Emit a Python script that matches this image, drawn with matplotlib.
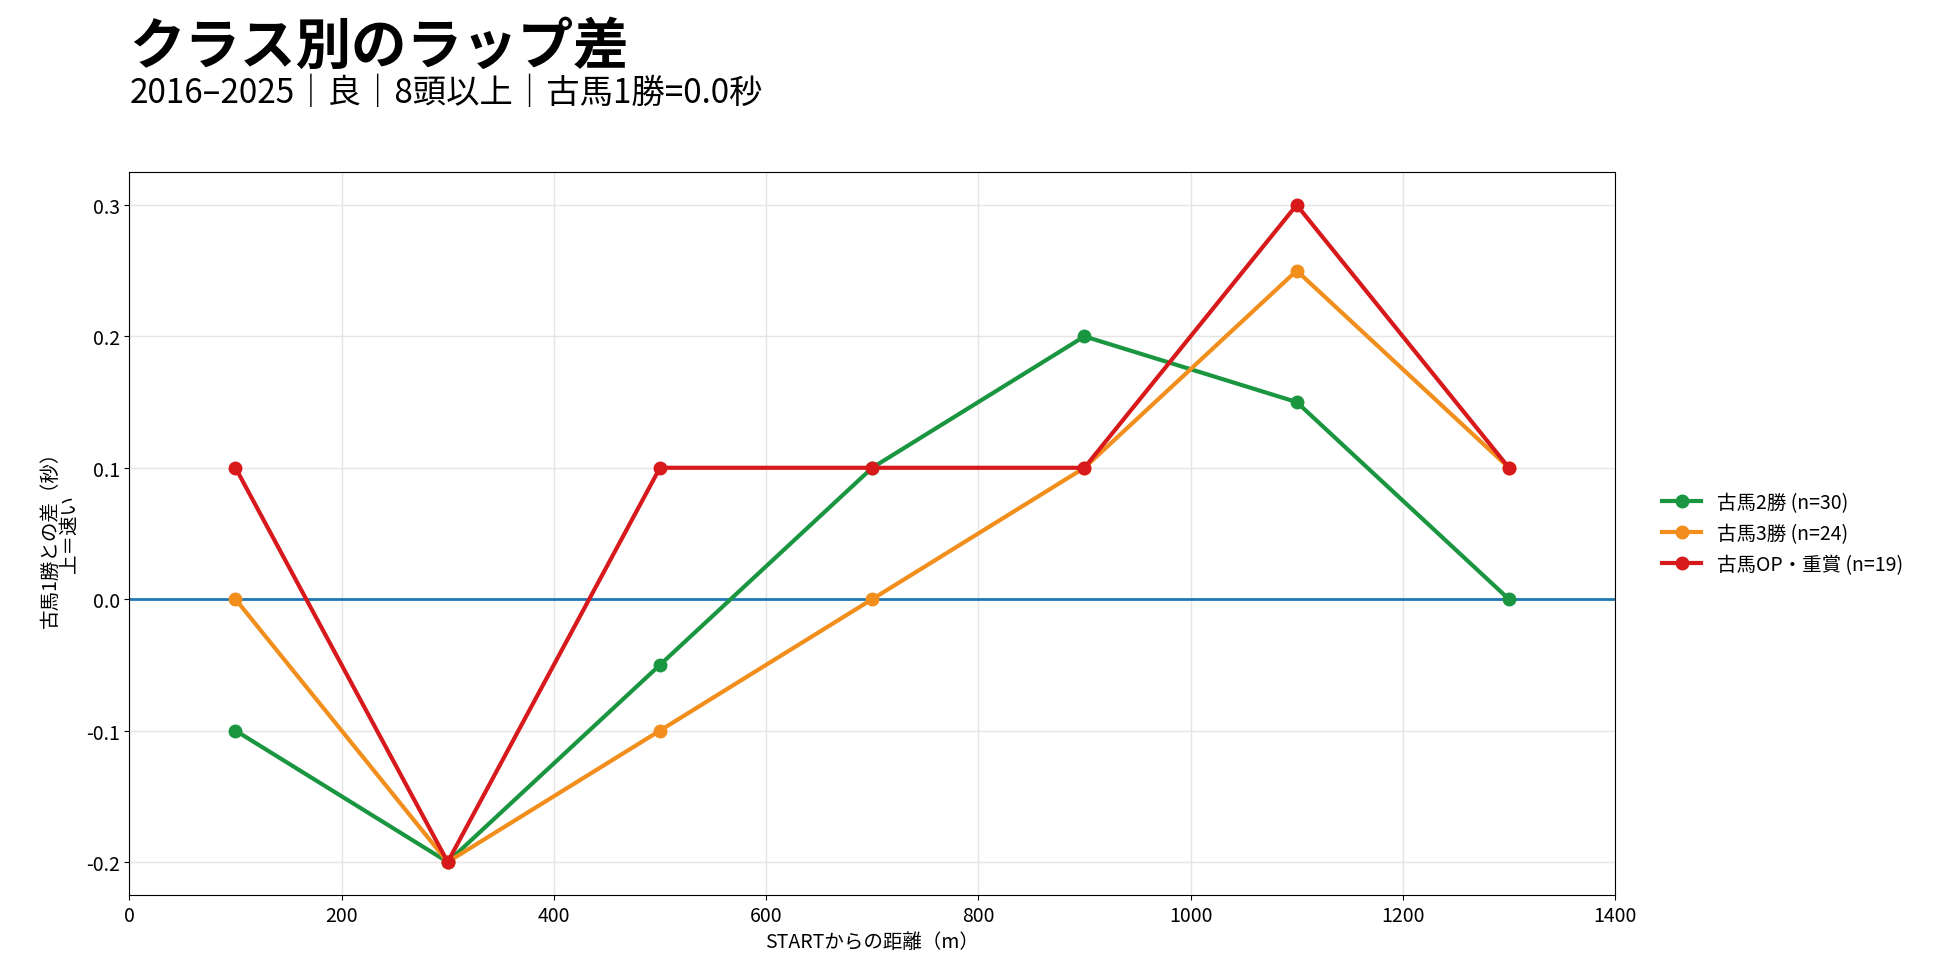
import matplotlib.pyplot as plt
from matplotlib.ticker import FuncFormatter

plt.rcParams['font.family'] = ['Noto Sans CJK JP', 'DejaVu Sans']

distance = [100, 300, 500, 700, 900, 1100, 1300]
win2 = [-0.1, -0.2, -0.05, 0.1, 0.2, 0.15, 0.0]
win3 = [0.0, -0.2, -0.1, 0.0, 0.1, 0.25, 0.1]
open_g = [0.1, -0.2, 0.1, 0.1, 0.1, 0.3, 0.1]
labels = ["古馬2勝 (n=30)", "古馬3勝 (n=24)", "古馬OP・重賞 (n=19)"]
colors = ["#1a9641", "#f28e1c", "#d7191c"]

fig = plt.figure(figsize=(19.6, 9.78), dpi=100)
ax = fig.add_axes([0.066, 0.084, 0.758, 0.739])

ax.axhline(0, color="#1f77b4", lw=2, zorder=1)
for ys, lab, c in zip([win2, win3, open_g], labels, colors):
    ax.plot(distance, ys, marker="o", ms=9, lw=3, color=c, label=lab, zorder=3)

ax.set_xlim(0, 1400)
ax.set_ylim(-0.225, 0.325)
ax.set_yticks([-0.2, -0.1, 0.0, 0.1, 0.2, 0.3])
ax.yaxis.set_major_formatter(FuncFormatter(lambda v, p: f"{v:.1f}".replace("−", "-")))
ax.grid(True, color="#e5e5e5", lw=1)
ax.set_axisbelow(True)
ax.tick_params(labelsize=14)
ax.set_xlabel("STARTからの距離（m）", fontsize=14)
ax.set_ylabel("古馬1勝との差（秒）\n上＝速い", fontsize=14, linespacing=0.9)

ax.legend(loc="center left", bbox_to_anchor=(1.02, 0.5), frameon=False, fontsize=14)

fig.text(0.066, 0.935, "クラス別のラップ差", fontsize=40, fontweight="bold", va="baseline")
fig.text(0.066, 0.895, "2016–2025｜良｜8頭以上｜古馬1勝=0.0秒", fontsize=24, va="baseline")

fig.savefig("out.png", dpi=100)
